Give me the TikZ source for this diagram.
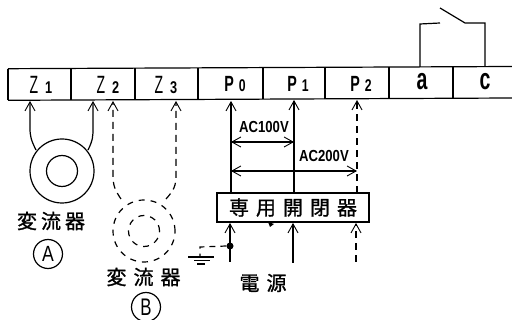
\documentclass[tikz,border=0pt]{standalone}
\usepackage{fontspec}
\usepackage{graphicx}
\setmainfont{Liberation Sans}
\newfontfamily\cjk[FakeBold=1.1]{Noto Sans CJK JP}
\usetikzlibrary{arrows.meta}
\tikzset{
  wire/.style={line width=1.2pt,black},
  dwire/.style={wire,dash pattern=on 7pt off 5pt},
  barb/.style={-{Straight Barb[length=9pt,width=10pt,line width=0.9pt]}},
  biarrow/.style={{Straight Barb[length=9pt,width=10pt,line width=0.9pt]}-{Straight Barb[length=9pt,width=10pt,line width=0.9pt]}},
  term/.style={inner sep=0pt},
  kanji/.style={font=\cjk\fontsize{20}{20}\selectfont,inner sep=0pt},
  volt/.style={inner sep=0pt},
  ring/.style={circle,draw,line width=1.2pt,inner sep=0pt},
  dring/.style={ring,dash pattern=on 6pt off 6pt},
  tag/.style={circle,draw,line width=1.2pt,inner sep=0pt,minimum size=29pt},
}
\newcommand{\zterm}[2]{\scalebox{0.56}[1]{\fontsize{25}{25}\selectfont #1}\hspace{7pt}\scalebox{0.75}[1]{\fontsize{17}{17}\selectfont\bfseries #2}}
\newcommand{\pterm}[2]{\scalebox{0.65}[1]{\fontsize{22}{22}\selectfont\bfseries #1}\hspace{5pt}\scalebox{0.72}[1]{\fontsize{17}{17}\selectfont\bfseries #2}}
\newcommand{\bigterm}[1]{\scalebox{0.65}[1]{\fontsize{30}{30}\selectfont\bfseries #1}}
\newcommand{\voltage}[1]{\scalebox{0.82}[1]{\fontsize{16}{16}\selectfont\bfseries #1}}
\begin{document}
\begin{tikzpicture}[x=1pt,y=-1pt]
\useasboundingbox (0,0) rectangle (512,320);
% terminal strip (slightly tilted, as scanned)
\draw[wire] (8,68.7) -- (512,66.5) (8,100.3) -- (512,98);
\draw[wire] (8,68.7) -- (8,100.3)
  (71,68.4) -- (71,100) (135,68.1) -- (135,99.7) (198,67.9) -- (198,99.4)
  (263,67.6) -- (263,99.1) (325,67.3) -- (325,98.9) (389,67) -- (389,98.6)
  (453,66.8) -- (453,98.3);
\node[term] (lz1) at (41,85) {\zterm{Z}{1}};
\node[term] (lz2) at (108,85) {\zterm{Z}{2}};
\node[term] (lz3) at (166,85) {\zterm{Z}{3}};
\node[term] (lp0) at (235,84.5) {\pterm{P}{0}};
\node[term] (lp1) at (298,84) {\pterm{P}{1}};
\node[term] (lp2) at (361,83.5) {\pterm{P}{2}};
\node[term] (la) at (422,82) {\bigterm{a}};
\node[term] (lc) at (485,82) {\bigterm{c}};
% relay contact
\coordinate (ta) at (420,67);
\coordinate (tc) at (485,67);
\coordinate (sw1) at (440,23);
\coordinate (sw2) at (440,8);
\coordinate (sw3) at (465,23);
\draw[wire] (ta) -- (420,24) -- (sw1);
\draw[wire] (sw2) -- (sw3) -- (485,23) -- (tc);
% transformer A
\node[ring,minimum size=64pt] (ao) at (62,171) {};
\node[ring,minimum size=31pt] (ai) at (62,171) {};
\coordinate (az1) at (30,101);
\coordinate (az2) at (93,101);
\draw[wire,barb] (36,150) .. controls (31,140) and (30,136) .. (30,128) -- (az1);
\draw[wire,barb] (88,150) .. controls (93,140) and (93,136) .. (93,128) -- (az2);
\node[kanji] (ka) at (51,221) {変\hspace{4pt}流\hspace{4pt}器};
\node[tag] (ta1) at (48,254) {\scalebox{0.8}[1]{\fontsize{22}{22}\selectfont A}};
% transformer B
\node[dring,minimum size=62pt] (bo) at (144,231) {};
\node[dring,minimum size=31pt] (bi) at (144,231) {};
\coordinate (bz2) at (113,101);
\coordinate (bz3) at (176,101);
\draw[dwire,barb] (121,199) .. controls (115,190) and (113,186) .. (113,175) -- (bz2);
\draw[dwire,barb] (166,199) .. controls (174,190) and (176,186) .. (176,175) -- (bz3);
\node[kanji] (kb) at (143.5,277) {変\hspace{7pt}流\hspace{7pt}器};
\node[tag] (tb1) at (146,307) {\scalebox{0.7}[1]{\fontsize{24}{24}\selectfont B}};
% switch box
\node[draw,line width=1.2pt,minimum width=152pt,minimum height=29pt,inner sep=0pt,font=\cjk\fontsize{20}{20}\selectfont] (box) at (293,207.5) {専\hspace{7pt}用\hspace{7pt}開\hspace{7pt}閉\hspace{7pt}器};
\coordinate (tp0) at (231,101);
\coordinate (tp1) at (294,100);
\coordinate (tp2) at (357,100);
\coordinate (bp0) at (231,193);
\coordinate (bp1) at (294,193);
\coordinate (bp2) at (357,193);
\draw[wire,barb] (bp0) -- (tp0);
\draw[wire,barb] (bp1) -- (tp1);
\draw[dwire,barb] (bp2) -- (tp2);
% voltage arrows
\coordinate (a1l) at (231,142);
\coordinate (a1r) at (294,142);
\coordinate (a2l) at (231,171);
\coordinate (a2r) at (357,171);
\draw[wire,biarrow] (a1l) -- (a1r);
\draw[wire,biarrow] (a2l) -- (a2r);
\node[volt] (v1) at (264,127) {\voltage{AC100V}};
\node[volt] (v2) at (324,156) {\voltage{AC200V}};
% supply
\coordinate (s0) at (230,262);
\coordinate (s1) at (293,263);
\coordinate (s2) at (356,262);
\coordinate (b0) at (230,223);
\coordinate (b1) at (293,223);
\coordinate (b2) at (356,223);
\draw[wire,barb] (s0) -- (b0);
\draw[wire,barb] (s1) -- (b1);
\draw[dwire,barb] (s2) -- (b2);
\node[circle,fill=black,minimum size=7pt,inner sep=0pt] (dot) at (230,246) {};
\coordinate (g0) at (200,256);
\draw[wire,dash pattern=on 6pt off 5pt] (dot.west) -- (200,247) -- (g0);
\draw[wire] (188,257) -- (214,257) (194,260.5) -- (210,260.5) (197,264) -- (205,264);
\fill (268,222) -- (274,224) -- (270,227) -- cycle;
\node[kanji] (kp) at (263,283) {電\hspace{7pt}源};
\end{tikzpicture}
\end{document}
